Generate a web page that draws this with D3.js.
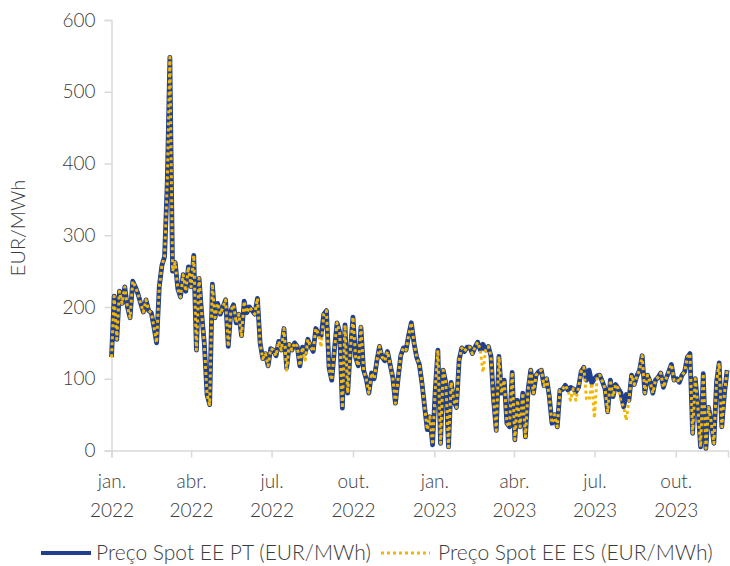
<!DOCTYPE html>
<html>
<head>
<meta charset="utf-8">
<script src="https://cdn.jsdelivr.net/npm/d3@7"></script>
<style>
  html, body { margin: 0; padding: 0; background: #fff; }
  svg { display: block; font-family: Lato, "Open Sans", sans-serif; }
</style>
</head>
<body>
<svg id="chart" width="730" height="566"></svg>
<script>
// Daily spot electricity prices, sampled every 3 days from 1 Jan 2022
const startDate = new Date(2022, 0, 1);
const stepDays = 3;

const seriesNames = ["Preço Spot EE PT (EUR/MWh)", "Preço Spot EE ES (EUR/MWh)"];

const pricePT = [
  130,215,155,222,205,228,200,185,236,228,218,205,193,210,195,192,172,150,228,258,
  270,372,548,250,262,225,214,245,222,256,228,272,140,240,190,148,78,64,232,185,
  205,190,200,210,145,195,203,178,190,160,208,192,200,195,190,212,150,128,135,118,
  142,140,132,152,140,170,115,148,140,150,145,118,144,135,155,145,138,170,162,160,
  190,195,115,98,140,178,165,59,175,80,140,186,130,118,172,112,100,80,108,100,
  125,145,130,125,138,120,102,66,100,132,143,140,161,178,150,130,120,94,61,29,
  47,8,84,140,10,112,94,5,95,70,60,126,143,138,144,144,135,144,151,140,
  148,140,145,132,70,28,131,80,98,38,33,109,15,70,33,80,19,85,112,80,
  105,110,112,90,100,75,38,50,33,84,85,91,84,88,86,82,88,110,116,98,
  112,94,100,104,105,96,86,54,98,75,92,86,80,61,78,70,105,92,104,112,
  132,80,105,96,80,98,102,108,88,100,110,120,98,100,95,105,110,130,135,24,
  100,60,5,107,3,60,40,10,95,122,33,80,112
];

const priceES = [
  130,215,155,222,205,228,200,185,236,228,218,205,193,210,195,192,172,150,228,258,
  270,372,548,250,262,225,214,245,222,256,228,272,140,240,190,148,78,64,232,185,
  205,190,200,210,145,195,203,178,190,160,208,192,200,195,190,212,150,128,135,118,
  142,140,132,152,140,170,112,148,140,150,145,118,144,126,155,145,138,170,162,144,
  190,195,115,98,140,178,165,59,175,80,140,186,130,118,172,112,100,80,108,100,
  125,145,130,125,138,120,102,66,100,132,143,140,161,178,150,130,120,94,61,29,
  47,8,84,140,10,112,94,5,95,70,60,126,143,138,144,144,135,144,151,140,
  109,140,145,132,70,28,131,80,98,38,33,109,15,70,33,80,19,85,112,80,
  105,110,112,90,100,75,38,50,33,84,85,91,84,70,86,70,88,110,116,72,
  70,94,45,104,105,96,86,54,98,75,92,86,68,61,42,70,105,92,104,112,
  132,80,105,96,80,98,102,108,88,100,110,120,98,100,95,105,110,130,135,24,
  100,60,5,107,3,60,40,10,95,122,33,80,112
];

const yTicks = [0, 100, 200, 300, 400, 500, 600];
const xTickDates = [
  new Date(2022, 0, 1), new Date(2022, 3, 1), new Date(2022, 6, 1), new Date(2022, 9, 1),
  new Date(2023, 0, 1), new Date(2023, 3, 1), new Date(2023, 6, 1), new Date(2023, 9, 1)
];
const monthLabels = ["jan.", "fev.", "mar.", "abr.", "mai.", "jun.", "jul.", "ago.", "set.", "out.", "nov.", "dez."];

const colorPT = "#203f8c";
const colorES = "#f2b705";
const axisColor = "#d9d9d9";
const textColor = "#3c3c3c";
const fontFamily = "Lato, 'Open Sans', sans-serif";

const svg = d3.select("#chart");

const x = d3.scaleTime()
  .domain([startDate, new Date(2023, 10, 29)])
  .range([111.5, 728]);
const y = d3.scaleLinear()
  .domain([0, 600])
  .range([450.5, 20]);

const rows = pricePT.map((v, i) => ({
  date: d3.timeDay.offset(startDate, i * stepDays),
  pt: v,
  es: priceES[i]
}));

// Y axis
const yAxis = svg.append("g")
  .attr("transform", `translate(${x.range()[0]},0)`)
  .call(d3.axisLeft(y).tickValues(yTicks).tickSize(7).tickPadding(9))
  .attr("font-family", fontFamily)
  .attr("font-size", null);
yAxis.select(".domain").attr("stroke", axisColor).attr("stroke-width", 1.5);
yAxis.selectAll(".tick line").attr("stroke", axisColor).attr("stroke-width", 1.5);
yAxis.selectAll(".tick text")
  .attr("fill", textColor).style("font-size", "19px").style("font-weight", 300);

// X axis
const xAxis = svg.append("g")
  .attr("transform", `translate(0,${y(0)})`)
  .call(d3.axisBottom(x).tickValues(xTickDates).tickSize(7).tickFormat(() => ""))
  .attr("font-family", fontFamily)
  .attr("font-size", null);
xAxis.select(".domain").attr("stroke", axisColor).attr("stroke-width", 1.5);
xAxis.selectAll(".tick line").attr("stroke", axisColor).attr("stroke-width", 1.5);
xAxis.selectAll(".tick").each(function(d) {
  const t = d3.select(this).append("text")
    .attr("fill", textColor)
    .attr("text-anchor", "middle")
    .style("font-size", "19px")
    .style("font-weight", 300);
  t.append("tspan").attr("x", 0).attr("y", 37).text(monthLabels[d.getMonth()]);
  t.append("tspan").attr("x", 0).attr("y", 66).text(d.getFullYear());
});

// Y axis title
svg.append("text")
  .attr("transform", `translate(25,228) rotate(-90)`)
  .attr("text-anchor", "middle")
  .attr("fill", textColor)
  .style("font-size", "20px")
  .style("font-weight", 300)
  .text("EUR/MWh");

// Lines
const linePT = d3.line().x(d => x(d.date)).y(d => y(d.pt));
const lineES = d3.line().x(d => x(d.date)).y(d => y(d.es));

svg.append("path")
  .datum(rows)
  .attr("d", linePT)
  .attr("fill", "none")
  .attr("stroke", colorPT)
  .attr("stroke-width", 4.8)
  .attr("stroke-linejoin", "round");

svg.append("path")
  .datum(rows)
  .attr("d", lineES)
  .attr("fill", "none")
  .attr("stroke", colorES)
  .attr("stroke-width", 3)
  .attr("stroke-dasharray", "3,3")
  .attr("stroke-linejoin", "round");

// Legend
const legend = svg.append("g").attr("transform", "translate(0,553)");
const items = [
  { name: seriesNames[0], color: colorPT, width: 4, dash: null, x0: 41, x1: 91, tx: 96 },
  { name: seriesNames[1], color: colorES, width: 3, dash: "3,3", x0: 381, x1: 430, tx: 438 }
];
items.forEach(it => {
  legend.append("line")
    .attr("x1", it.x0).attr("x2", it.x1)
    .attr("y1", 0).attr("y2", 0)
    .attr("stroke", it.color)
    .attr("stroke-width", it.width)
    .attr("stroke-dasharray", it.dash);
  legend.append("text")
    .attr("x", it.tx)
    .attr("y", 7)
    .attr("fill", textColor)
    .style("font-size", "21px")
    .style("font-weight", 300)
    .text(it.name);
});
</script>
</body>
</html>
